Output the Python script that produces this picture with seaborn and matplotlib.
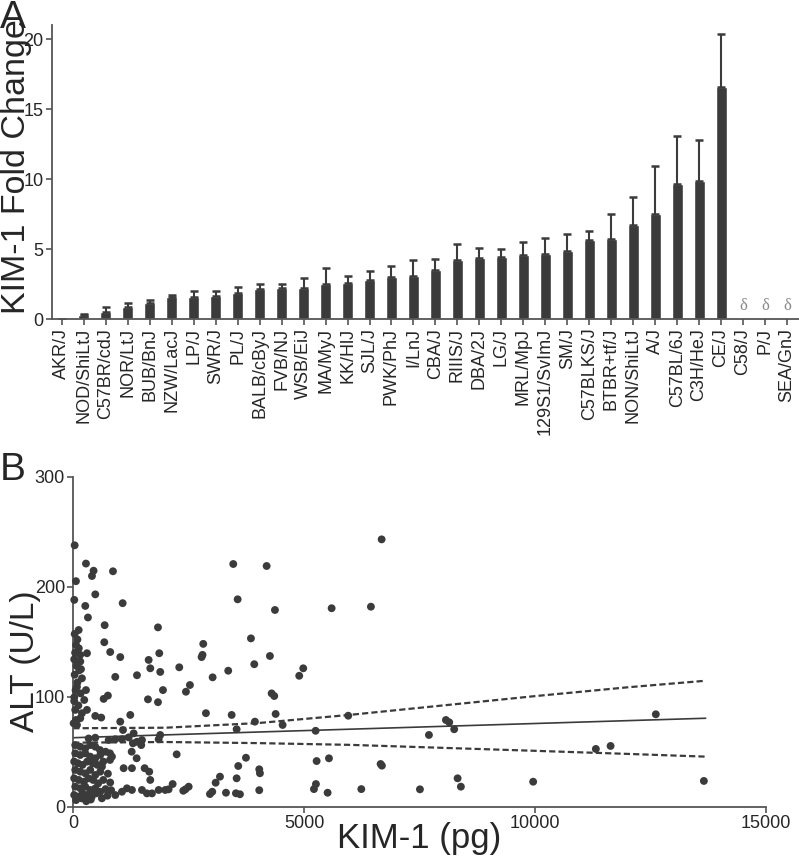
import numpy as np
import pandas as pd
import matplotlib
matplotlib.use("Agg")
import matplotlib.pyplot as plt
import seaborn as sns

sns.set_style("ticks")
plt.rcParams['font.family'] = ['Liberation Sans', 'DejaVu Sans']

# --- Panel A data: KIM-1 fold change per strain ---
strains = ["AKR/J", "NOD/ShiLtJ", "C57BR/cdJ", "NOR/LtJ", "BUB/BnJ", "NZW/LacJ",
           "LP/J", "SWR/J", "PL/J", "BALB/cByJ", "FVB/NJ", "WSB/EiJ", "MA/MyJ",
           "KK/HlJ", "SJL/J", "PWK/PhJ", "I/LnJ", "CBA/J", "RIIIS/J", "DBA/2J",
           "LG/J", "MRL/MpJ", "129S1/SvImJ", "SM/J", "C57BLKS/J", "BTBR+tf/J",
           "NON/ShiLtJ", "A/J", "C57BL/6J", "C3H/HeJ", "CE/J", "C58/J", "P/J", "SEA/GnJ"]
fold_change = [0.0, 0.32, 0.55, 0.88, 1.14, 1.57, 1.57, 1.69, 1.85, 2.19, 2.21, 2.26,
               2.50, 2.59, 2.78, 3.00, 3.07, 3.50, 4.23, 4.35, 4.47, 4.61, 4.68, 4.85,
               5.64, 5.75, 6.75, 7.54, 9.66, 9.87, 16.58, np.nan, np.nan, np.nan]
fold_sem = [np.nan, 0.08, 0.31, 0.31, 0.24, 0.14, 0.48, 0.36, 0.48, 0.33, 0.31, 0.71,
            1.16, 0.48, 0.64, 0.78, 1.16, 0.78, 1.14, 0.72, 0.52, 0.91, 1.15, 1.21,
            0.66, 1.74, 1.95, 3.40, 3.42, 2.90, 3.80, np.nan, np.nan, np.nan]
not_detected = ["C58/J", "P/J", "SEA/GnJ"]

# --- Panel B data: ALT vs KIM-1 ---
kim1_pg = [30, 275, 440, 405, 860, 58, 477, 22, 260, 1070, 318, 680, 1835, 117, 672,
           297, 800, 1018, 1863, 1633, 1668, 1884, 152, 167, 910, 1380, 188, 80, 275,
           1943, 22, 238, 658, 750, 1618, 1835,
           30, 90, 60, 120, 40, 150, 20, 100, 70, 130, 30, 90, 50, 160, 20, 110,
           3466, 4189, 3561, 4369, 5597, 3849, 2816, 2800, 2780, 4260, 3921, 2296,
           3357, 4982, 4895, 3019, 2527, 2441, 4297, 4354, 2874, 3431, 4384, 3935,
           4535, 3539, 5250, 5957, 2240, 3741, 3574, 4029, 4044, 3539, 5272, 5539,
           3178, 3084, 3011, 2961, 4029, 3308, 3524, 3611, 2383, 2430, 2500, 2153,
           5257, 5214, 5510, 6240,
           6680, 6448, 8073, 8145, 8252, 7705, 6658, 6686, 7510, 8326, 8397, 9963,
           12620, 11321, 11640, 13661,
           43, 297, 188, 152, 477, 606, 1235, 1018, 8, 58, 80, 1077, 1308, 333, 477,
           767, 910, 1055, 1200, 1380, 1488, 1850, 1884, 1293, 1473, 700, 838, 622,
           1091, 1271, 1546, 1646, 1668, 910, 1055, 1163, 1271, 1488, 1596, 1705,
           1850, 1993, 2066, 795, 1373, 1265, 578, 795,
           43, 152, 260, 368, 477,
           43, 152, 260, 368, 477, 585,
           20, 100, 200, 300, 420, 520, 650,
           43, 152, 260, 368, 477, 585, 750,
           20, 120, 230, 330, 430, 540, 650, 800,
           43, 152, 260, 368, 477, 585, 700, 820,
           20, 100, 200, 300, 400, 500, 620, 740,
           60, 180, 280, 380]
alt_ul = [237.6, 221, 214.5, 209.7, 214, 205, 193, 188, 182.5, 185, 172, 165, 163,
          160.6, 149.5, 139.5, 140.6, 136, 139.5, 133.4, 125.8, 122.5, 132, 125, 118,
          119.5, 116.7, 109, 106, 106, 99.5, 97, 98, 101, 97.6, 95,
          157, 152, 147, 144, 140, 138, 134, 131, 128, 124, 120, 113, 106, 103, 96, 92,
          220.6, 218.8, 188.5, 178.8, 180.4, 153, 148, 138, 136, 137, 129.5, 126.7,
          123.6, 125.8, 119, 117.6, 110.6, 104.5, 103, 100.6, 85, 83.4, 84.3, 77.3,
          74.3, 70.4, 69, 82.7, 47.6, 44.5, 37, 34, 30.4, 25.8, 41.5, 44,
          27.3, 21.8, 13.6, 11.5, 15, 12.7, 12.2, 11.3, 14.5, 15.8, 18.2, 20.6,
          20.6, 16, 12.7, 16,
          243, 181.8, 78.8, 76.7, 70.4, 65.2, 38.8, 37.3, 15.8, 25.8, 18.2, 22.7,
          84, 52.5, 55.2, 23.4,
          88, 88, 85, 80.4, 82.5, 81, 83.4, 77.3, 75.8, 78.8, 74.3, 69.7, 66.7, 62,
          62.7, 60.6, 61.3, 61.3, 63, 59, 60.6, 61.3, 65.2, 57.6, 56, 50, 45.5, 36.4,
          35, 35, 35, 31.8, 24.3, 10.6, 13.6, 16.7, 15.2, 15.2, 12.1, 12.1,
          15.2, 15.2, 15.8, 42.5, 44, 50, 51.5, 48.5,
          56, 54.5, 53, 56, 54.5,
          48.5, 47, 48.5, 45.5, 44, 47,
          41, 39.5, 38, 41, 39.5, 38, 41,
          33.4, 31.8, 30.3, 33.4, 28.8, 31.8, 30,
          25.8, 24.3, 22.7, 25.8, 24.3, 21.2, 24.3, 22,
          18.2, 16.7, 18.2, 15.2, 16.7, 13.6, 16, 15,
          10.6, 9.1, 12.1, 10.6, 9.1, 12.1, 7.6, 10,
          6, 7.6, 5, 6.5]

# regression line and 95% band
fit_x = [0, 13700]
fit_y = [62.7, 80.4]
band_x = [0, 2000, 4000, 6000, 8000, 10000, 12000, 13700]
band_upper = [71.3, 71.8, 76.0, 83.5, 92.0, 100.5, 108.5, 114.5]
band_lower = [58.2, 58.8, 57.8, 56.2, 53.5, 50.8, 48.0, 45.5]

DARK = "#3b3b3b"
AXIS = "#555555"

fig = plt.figure(figsize=(7.99, 8.57), dpi=100)

# --- Panel A ---
ax1 = fig.add_axes([0.0651, 0.6274, 0.935, 0.3434])
df = pd.DataFrame({"strain": strains, "fold": fold_change, "sem": fold_sem})
sns.barplot(data=df, x="strain", y="fold", color=DARK, width=0.5, errorbar=None,
            saturation=1, ax=ax1)
pos = np.arange(len(strains))
ax1.errorbar(pos, df["fold"], yerr=[np.zeros(len(pos)), df["sem"]], fmt="none",
             ecolor=DARK, elinewidth=1.5, capsize=3, capthick=1.8)
for s in not_detected:
    ax1.text(strains.index(s), 0.35, "δ", family="Liberation Serif", fontsize=12,
             color="#8a8a8a", ha="center", va="bottom")
ax1.set_xlim(-0.45, len(strains) - 0.45)
ax1.set_ylim(0, 21)
ax1.set_yticks([0, 5, 10, 15, 20])
ax1.set_xlabel("")
ax1.set_ylabel("KIM-1 Fold Change", fontsize=24.5)
ax1.yaxis.set_label_coords(-0.027, 0.52)
ax1.tick_params(axis="x", rotation=90)
ax1.tick_params(labelsize=13, length=4, width=1.2, color=AXIS, pad=2)
sns.despine(ax=ax1)
for sp in ["left", "bottom"]:
    ax1.spines[sp].set_color(AXIS)
    ax1.spines[sp].set_linewidth(1.3)

# --- Panel B ---
ax2 = fig.add_axes([0.0917, 0.0587, 0.8666, 0.3851])
sns.scatterplot(x=kim1_pg, y=alt_ul, color=DARK, s=32, edgecolor="none",
                ax=ax2, clip_on=False, zorder=3)
ax2.plot(fit_x, fit_y, color=DARK, lw=1.2)
ax2.plot(band_x, band_upper, color=DARK, lw=1.6, dashes=(2.8, 1.4))
ax2.plot(band_x, band_lower, color=DARK, lw=1.6, dashes=(2.8, 1.4))
ax2.set_xlim(0, 15000)
ax2.set_ylim(0, 300)
ax2.set_xticks([0, 5000, 10000, 15000])
ax2.set_yticks([0, 100, 200, 300])
ax2.set_xlabel("KIM-1 (pg)", fontsize=25)
ax2.xaxis.set_label_coords(0.5, -0.045)
ax2.set_ylabel("ALT (U/L)", fontsize=24)
ax2.yaxis.set_label_coords(-0.047, 0.44)
ax2.tick_params(labelsize=13, length=4, width=1.2, color=AXIS, pad=2)
sns.despine(ax=ax2)
for sp in ["left", "bottom"]:
    ax2.spines[sp].set_color(AXIS)
    ax2.spines[sp].set_linewidth(1.3)

fig.text(0.0, 1.0, "A", fontsize=28, va="top", ha="left")
fig.text(0.0, 0.472, "B", fontsize=28, va="top", ha="left")

fig.savefig("out.png", dpi=100)
plt.close(fig)
